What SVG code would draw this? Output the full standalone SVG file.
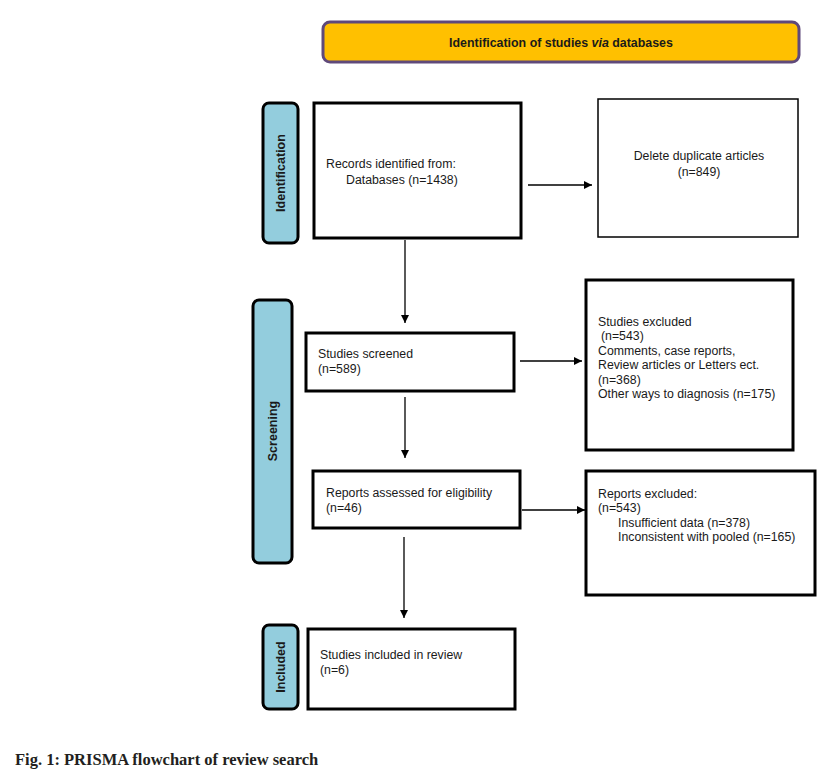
<svg xmlns="http://www.w3.org/2000/svg" width="825" height="781" viewBox="0 0 825 781">
<style>
.box{fill:#fff;stroke:#000;stroke-width:3}
.thin{stroke-width:1.5}
.pill{fill:#93CDDD;stroke:#000;stroke-width:3}
.t{font-family:"Liberation Sans",Arial,sans-serif;font-size:12.3px;fill:#1a1a1a}
.pt{font-family:"Liberation Sans",Arial,sans-serif;font-size:12.5px;font-weight:bold;fill:#1a1a1a;text-anchor:middle}
.ln{stroke:#000;stroke-width:1.3;fill:none;marker-end:url(#ah)}
</style>
<defs>
<marker id="ah" viewBox="0 0 10 10" refX="10" refY="5" markerWidth="8" markerHeight="8" markerUnits="userSpaceOnUse" orient="auto">
<path d="M0,0 L10,5 L0,10 z" fill="#000"/>
</marker>
</defs>
<rect width="825" height="781" fill="#fff"/>
<g id="header">
<rect x="323" y="22" width="476" height="40" rx="7" fill="#FFC000" stroke="#5F497A" stroke-width="3"/>
<text x="561" y="46.5" class="pt" style="font-size:12.4px">Identification of studies <tspan font-style="italic">via</tspan> databases</text>
</g>
<g id="stage-identification">
<rect x="263" y="103" width="35" height="140" rx="6" class="pill"/>
<text transform="translate(285,173) rotate(-90)" class="pt">Identification</text>
</g>
<g id="stage-screening">
<rect x="253" y="300" width="39" height="263" rx="6" class="pill"/>
<text transform="translate(277,431) rotate(-90)" class="pt">Screening</text>
</g>
<g id="stage-included">
<rect x="263" y="625" width="35" height="84" rx="6" class="pill"/>
<text transform="translate(285,667) rotate(-90)" class="pt">Included</text>
</g>
<g id="records">
<rect x="314" y="103" width="207" height="135" class="box"/>
<text class="t" x="326" y="168">Records identified from:</text>
<text class="t" x="346" y="184">Databases (n=1438)</text>
</g>
<g id="duplicates">
<rect x="598" y="99" width="200" height="138" class="box thin"/>
<text class="t" x="699" y="160" text-anchor="middle">Delete duplicate articles</text>
<text class="t" x="699" y="176" text-anchor="middle">(n=849)</text>
</g>
<g id="screened">
<rect x="306" y="333" width="208" height="58" class="box"/>
<text class="t" x="318" y="358">Studies screened</text>
<text class="t" x="318" y="373">(n=589)</text>
</g>
<g id="studies-excluded">
<rect x="586" y="280" width="207" height="170" class="box" stroke-width="2.5"/>
<text class="t" x="598" y="326">Studies excluded</text>
<text class="t" x="601" y="340">(n=543)</text>
<text class="t" x="598" y="355">Comments, case reports,</text>
<text class="t" x="598" y="369">Review articles or Letters ect.</text>
<text class="t" x="598" y="384">(n=368)</text>
<text class="t" x="598" y="398">Other ways to diagnosis (n=175)</text>
</g>
<g id="assessed">
<rect x="313" y="471" width="207" height="57" class="box"/>
<text class="t" x="326" y="497">Reports assessed for eligibility</text>
<text class="t" x="326" y="512">(n=46)</text>
</g>
<g id="reports-excluded">
<rect x="586" y="471" width="229" height="124" class="box"/>
<text class="t" x="598" y="498">Reports excluded:</text>
<text class="t" x="598" y="512">(n=543)</text>
<text class="t" x="618" y="527">Insufficient data (n=378)</text>
<text class="t" x="618" y="541">Inconsistent with pooled (n=165)</text>
</g>
<g id="included">
<rect x="308" y="629" width="207" height="80" class="box"/>
<text class="t" x="320" y="659">Studies included in review</text>
<text class="t" x="320" y="674">(n=6)</text>
</g>
<g id="connectors">
<line x1="528" y1="185" x2="592" y2="185" class="ln"/>
<line x1="405" y1="240" x2="405" y2="323" class="ln"/>
<line x1="520" y1="361" x2="582" y2="361" class="ln"/>
<line x1="405" y1="397" x2="405" y2="458" class="ln"/>
<line x1="522" y1="510" x2="585" y2="510" class="ln"/>
<line x1="404" y1="537" x2="404" y2="618" class="ln"/>
</g>
<text x="15" y="765" font-family="'Liberation Serif','Times New Roman',serif" font-size="16.5" font-weight="bold" fill="#231F20">Fig. 1: PRISMA flowchart of review search</text>
</svg>
